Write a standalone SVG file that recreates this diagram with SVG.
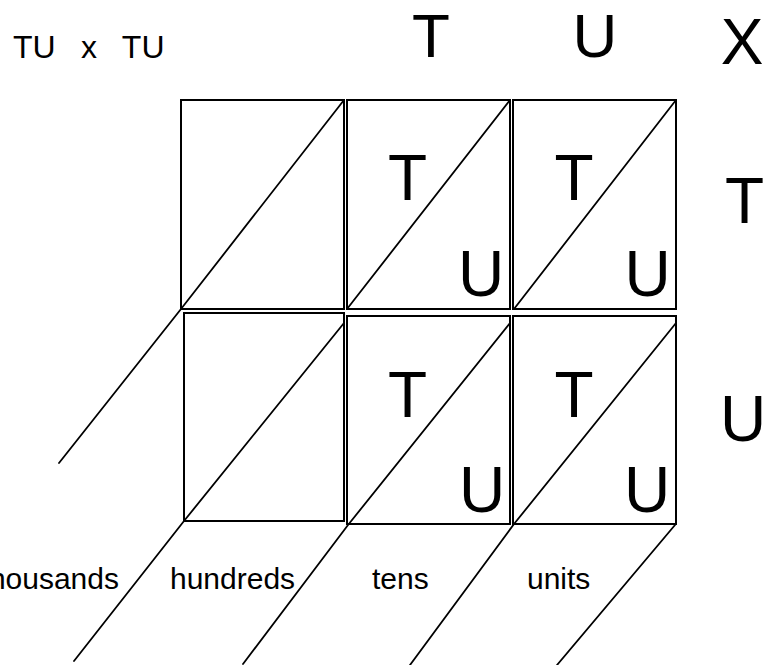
<svg xmlns="http://www.w3.org/2000/svg" width="778" height="665" viewBox="0 0 778 665">
<style>
.box{fill:#fff;stroke:#000;stroke-width:2}
.ln{fill:none;stroke:#000;stroke-width:1.8;stroke-linecap:round}
.big{font-family:"Liberation Sans","DejaVu Sans",sans-serif;font-size:64px;fill:#000;text-anchor:middle}
.top{font-size:62px}
.lbl{font-family:"Liberation Sans","DejaVu Sans",sans-serif;font-size:30px;fill:#000}
</style>
<rect width="778" height="665" fill="#fff"/>
<g id="boxA"><rect class="box" x="181" y="100" width="163" height="209"/></g>
<g id="boxB"><rect class="box" x="347" y="100" width="163" height="209"/>
<text class="big" x="407.5" y="200">T</text><text class="big" x="481" y="296">U</text></g>
<g id="boxC"><rect class="box" x="513" y="100" width="163" height="209"/>
<text class="big" x="574" y="200">T</text><text class="big" x="647.5" y="296">U</text></g>
<g id="boxD"><rect class="box" x="184" y="313" width="160" height="208"/></g>
<g id="boxE"><rect class="box" x="347" y="316" width="163" height="208"/>
<text class="big" x="407.5" y="417">T</text><text class="big" x="482" y="512">U</text></g>
<g id="boxF"><rect class="box" x="513" y="316" width="163" height="208"/>
<text class="big" x="574" y="417">T</text><text class="big" x="647" y="512">U</text></g>
<g id="connectors">
<polyline class="ln" points="59,463 181,309 344,100"/>
<polyline class="ln" points="347,309 510,100"/>
<polyline class="ln" points="514,309 676,100"/>
<polyline class="ln" points="74,661 184,521 344,323"/>
<polyline class="ln" points="243,664 348,525 510,323"/>
<polyline class="ln" points="410,665 514,524 676,323"/>
<polyline class="ln" points="557,665 675,525"/>
</g>
<g id="headers">
<text class="lbl" x="13" y="58" style="font-size:32px;word-spacing:16.5px">TU x TU</text>
<text class="big top" x="431" y="57">T</text>
<text class="big top" x="595" y="57">U</text>
<text class="big" x="742" y="64">X</text>
<text class="big" x="744.5" y="223">T</text>
<text class="big" x="743" y="441">U</text>
</g>
<g id="labels">
<text class="lbl" x="119" y="589" text-anchor="end">thousands</text>
<text class="lbl" x="170" y="589">hundreds</text>
<text class="lbl" x="372" y="589">tens</text>
<text class="lbl" x="527" y="589">units</text>
</g>
</svg>
